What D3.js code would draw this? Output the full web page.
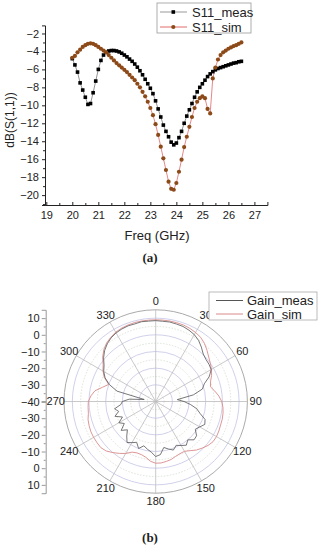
<!DOCTYPE html>
<html><head><meta charset="utf-8">
<script src="https://cdn.jsdelivr.net/npm/d3@7"></script>
<style>
body{margin:0;background:#fff}
text{font-family:Arial,"Liberation Sans",sans-serif;fill:#222}
</style>
</head><body>
<svg id="fig" width="318" height="550"></svg>
<script>
// (a) S11 vs frequency
var freq = [20.0,20.1,20.2,20.3,20.4,20.5,20.6,20.7,20.8,20.9,21.0,21.1,21.2,21.3,21.4,21.5,21.6,21.7,21.8,21.9,
  22.0,22.1,22.2,22.3,22.4,22.5,22.6,22.7,22.8,22.9,23.0,23.1,23.2,23.3,23.4,23.5,23.6,23.7,23.8,23.9,
  24.0,24.1,24.2,24.3,24.4,24.5,24.6,24.7,24.8,24.9,25.0,25.1,25.2,25.3,25.4,25.5,25.6,25.7,25.8,25.9,
  26.0,26.1,26.2,26.3,26.4,26.5];
var s11Meas = [-4.8,-5.5,-6.3,-7.5,-8.3,-9.1,-9.9,-9.8,-8.6,-7.3,-6.0,-5.0,-4.4,-4.1,-3.95,-3.9,-3.9,-3.95,-4.05,-4.2,
  -4.4,-4.6,-4.85,-5.1,-5.4,-5.75,-6.15,-6.6,-7.1,-7.6,-8.1,-8.7,-9.5,-10.4,-11.3,-12.2,-12.9,-13.5,-14.1,-14.4,
  -14.2,-13.6,-12.9,-12.0,-11.2,-10.5,-9.8,-9.1,-8.5,-8.0,-7.6,-7.2,-6.8,-6.5,-6.25,-6.05,-5.9,-5.8,-5.7,-5.6,
  -5.5,-5.4,-5.3,-5.25,-5.15,-5.1];
var s11Sim = [-4.7,-4.5,-4.1,-3.8,-3.5,-3.3,-3.15,-3.1,-3.15,-3.3,-3.5,-3.7,-3.9,-4.1,-4.4,-4.7,-5.0,-5.3,-5.55,-5.8,
  -6.05,-6.3,-6.6,-6.9,-7.2,-7.6,-8.0,-8.5,-9.0,-9.6,-10.3,-11.1,-12.1,-13.3,-14.6,-15.9,-17.2,-18.5,-19.3,-19.4,
  -18.65,-17.4,-16.05,-14.65,-13.5,-12.4,-11.3,-10.3,-9.6,-9.2,-9.0,-9.2,-10.4,-10.9,-7.0,-5.8,-4.9,-4.4,-4.1,-3.9,
  -3.7,-3.55,-3.4,-3.3,-3.15,-3.0];
var freqTicks = [19,20,21,22,23,24,25,26,27];
var dbTicks = [-2,-4,-6,-8,-10,-12,-14,-16,-18,-20];

// (b) radiation pattern, dB vs angle
var angles = [0,5,10,15,20,25,30,35,40,45,50,55,60,65,70,75,80,85,90,95,100,105,110,115,
  120,125,130,135,140,145,150,155,160,165,170,175,180,185,190,195,200,205,210,215,220,225,230,235,
  240,245,250,255,260,265,270,275,280,285,290,295,300,305,310,315,320,325,330,335,340,345,350,355];
var gainSim = [9,9,9,8.9,8.8,8.4,7.8,7,5.5,3.5,1.5,0,-1.4,-3,-5,-6,-4,-2,-0.4,0.5,1,1.3,1.4,1.8,
  2.1,2,1,-0.5,-2,-4,-5.5,-5.5,-5,-4,-3.5,-3,-3,-4,-6,-7,-7.2,-6.5,-4,-2,0,2,3,3,
  3,2.9,2.5,2,1,0.7,0.4,-1,-3,-7,-10,-6,-3.5,-1.5,1.5,4,5.8,7,8,8.5,8.8,9,9,9];
var gainMeas = [8.5,8.3,8.4,8.1,7.9,7.2,6.3,4.8,2.6,0.3,-0.7,-1.0,-1.6,-4.5,-9,-11,-17,-27,-23,-19,-15,-12.5,-8.5,-7.5,
  -9.5,-11,-8,-7.5,-10,-8,-9.5,-11,-9,-10.5,-12,-8,-7,-9.5,-11,-12.5,-10,-13,-11.5,-10,-13,-16,-13,-17,
  -14.5,-18,-14,-17,-15,-19,-20,-24,-33,-16,-10.5,-6.5,-4,-2.2,0.8,3.3,5.2,6.6,7.5,8.0,8.3,8.2,8.6,8.4];
var angleTicks = [0,30,60,90,120,150,180,210,240,270,300,330];
var ringMajor = [-30,-20,-10,0,10];
var ringMinor = [-35,-25,-15,-5,5];
var radTicks = [-40,-30,-20,-10,0,10];

var svg = d3.select("#fig");

// ---------- top chart ----------
var x = d3.scaleLinear().domain([18.95, 27.5]).range([45, 267.4]);
var y = d3.scaleLinear().domain([-21.1, -1.1]).range([205, 25.4]);

var g1 = svg.append("g");

g1.append("g")
    .attr("transform", "translate(0,205)")
    .call(d3.axisBottom(x).tickValues(freqTicks).tickSize(-3).tickPadding(6).tickFormat(d3.format("d")))
    .call(function(a) {
      a.select(".domain").attr("stroke", "#222");
      a.selectAll(".tick line").attr("stroke", "#222");
      a.selectAll("text").style("font-size", "11px");
    });
g1.append("g")
    .attr("transform", "translate(0,205)")
    .call(d3.axisBottom(x).tickValues(d3.range(19.5, 27.5, 1)).tickSize(-2).tickFormat(""))
    .call(function(a) { a.select(".domain").remove(); a.selectAll("line").attr("stroke", "#222"); });

g1.append("g")
    .attr("transform", "translate(45,0)")
    .call(d3.axisLeft(y).tickValues(dbTicks).tickSize(3).tickPadding(3))
    .call(function(a) {
      a.select(".domain").attr("stroke", "#222");
      a.selectAll(".tick line").attr("stroke", "#222");
      a.selectAll("text").style("font-size", "11px");
    });
g1.append("g")
    .attr("transform", "translate(45,0)")
    .call(d3.axisLeft(y).tickValues(d3.range(-21, -1, 2)).tickSize(2).tickFormat(""))
    .call(function(a) { a.select(".domain").remove(); a.selectAll("line").attr("stroke", "#222"); });

var measPts = freq.map(function(f, i) { return {f: f, v: s11Meas[i]}; });
var simPts = freq.map(function(f, i) { return {f: f, v: s11Sim[i]}; });
var line = d3.line().x(function(d) { return x(d.f); }).y(function(d) { return y(d.v); });

g1.append("path").datum(measPts)
    .attr("fill", "none").attr("stroke", "#777").attr("stroke-width", 0.8).attr("d", line);
g1.append("path").datum(simPts)
    .attr("fill", "none").attr("stroke", "#e06a6a").attr("stroke-width", 0.8).attr("d", line);

g1.selectAll(".sq").data(measPts).enter().append("rect")
    .attr("x", function(d) { return x(d.f) - 1.8; })
    .attr("y", function(d) { return y(d.v) - 1.8; })
    .attr("width", 3.6).attr("height", 3.6).attr("fill", "#000");
g1.selectAll(".ci").data(simPts).enter().append("circle")
    .attr("cx", function(d) { return x(d.f); })
    .attr("cy", function(d) { return y(d.v); })
    .attr("r", 2.1).attr("fill", "#8c4a18");

g1.append("text").attr("x", 157).attr("y", 240).attr("text-anchor", "middle")
    .style("font-size", "13px").text("Freq (GHz)");
g1.append("text").attr("transform", "translate(14,120) rotate(-90)").attr("text-anchor", "middle")
    .style("font-size", "12px").text("dB(S(1,1))");

// legend a
var lg = g1.append("g");
lg.append("rect").attr("x", 157).attr("y", 3).attr("width", 94).attr("height", 30)
    .attr("fill", "#fff").attr("stroke", "#999").attr("stroke-width", 0.8);
lg.append("line").attr("x1", 160).attr("x2", 187).attr("y1", 12).attr("y2", 12).attr("stroke", "#999");
lg.append("rect").attr("x", 171.5).attr("y", 10.2).attr("width", 3.6).attr("height", 3.6).attr("fill", "#000");
lg.append("text").attr("x", 192).attr("y", 16.5).style("font-size", "13px").text("S11_meas");
lg.append("line").attr("x1", 160).attr("x2", 187).attr("y1", 27).attr("y2", 27).attr("stroke", "#e06a6a");
lg.append("circle").attr("cx", 173.3).attr("cy", 27).attr("r", 2.1).attr("fill", "#8c4a18");
lg.append("text").attr("x", 192).attr("y", 31.5).style("font-size", "13px").text("S11_sim");

svg.append("text").attr("x", 150).attr("y", 262).attr("text-anchor", "middle")
    .style("font-family", "'Liberation Serif','DejaVu Serif',serif").style("font-size", "13px")
    .style("font-weight", "bold").text("(a)");

// ---------- polar chart ----------
var cx = 155.7, cy = 401.5, R = 91.7;
var r = d3.scaleLinear().domain([-40, 15]).range([0, R]);
var pg = svg.append("g").attr("transform", "translate(" + cx + "," + cy + ")");

pg.selectAll(".rmin").data(ringMinor).enter().append("circle")
    .attr("r", function(d) { return r(d); }).attr("fill", "none")
    .attr("stroke", "#cfd8c8").attr("stroke-width", 0.7).attr("stroke-dasharray", "1.5,1.5");
pg.selectAll(".rmaj").data(ringMajor).enter().append("circle")
    .attr("r", function(d) { return r(d); }).attr("fill", "none")
    .attr("stroke", "#c4c4e6").attr("stroke-width", 0.8);
pg.selectAll(".spoke").data(angleTicks).enter().append("line")
    .attr("x1", 0).attr("y1", 0)
    .attr("x2", function(d) { return R * Math.sin(d * Math.PI / 180); })
    .attr("y2", function(d) { return -R * Math.cos(d * Math.PI / 180); })
    .attr("stroke", "#bbb").attr("stroke-width", 0.8);
pg.append("circle").attr("r", r(15)).attr("fill", "none").attr("stroke", "#a0a0a0").attr("stroke-width", 0.9);

pg.selectAll(".alab").data(angleTicks).enter().append("text")
    .attr("x", function(d) { return 100 * Math.sin(d * Math.PI / 180); })
    .attr("y", function(d) { return -100 * Math.cos(d * Math.PI / 180); })
    .attr("dy", "0.35em").attr("text-anchor", "middle").style("font-size", "11px")
    .text(function(d) { return d; });

var radial = d3.lineRadial()
    .angle(function(d) { return d.a * Math.PI / 180; })
    .radius(function(d) { return r(d.v); })
    .curve(d3.curveLinearClosed);
pg.append("path").datum(angles.map(function(a, i) { return {a: a, v: gainSim[i]}; }))
    .attr("fill", "none").attr("stroke", "#d98a8a").attr("stroke-width", 0.9).attr("d", radial);
pg.append("path").datum(angles.map(function(a, i) { return {a: a, v: gainMeas[i]}; }))
    .attr("fill", "none").attr("stroke", "#555").attr("stroke-width", 0.8).attr("d", radial);

// radial axis on the left, mirrored around the centre
var yUp = d3.scaleLinear().domain([-40, 15]).range([cy, cy - R]);
var yDn = d3.scaleLinear().domain([-40, 15]).range([cy, cy + R]);
[yUp, yDn].forEach(function(s, k) {
  svg.append("g").attr("transform", "translate(45.7,0)")
      .call(d3.axisLeft(s).tickValues(k == 0 ? radTicks : radTicks.slice(1)).tickSize(4).tickPadding(2))
      .call(function(a) {
        a.select(".domain").attr("stroke", "#999");
        a.selectAll(".tick line").attr("stroke", "#999");
        a.selectAll("text").style("font-size", "11px");
      });
  svg.append("g").attr("transform", "translate(45.7,0)")
      .call(d3.axisLeft(s).tickValues(d3.range(-35, 15, 10)).tickSize(2).tickFormat(""))
      .call(function(a) { a.select(".domain").remove(); a.selectAll("line").attr("stroke", "#999"); });
});

// legend b
var lb = svg.append("g");
lb.append("rect").attr("x", 209).attr("y", 292).attr("width", 108).attr("height", 28)
    .attr("fill", "#fff").attr("stroke", "#aaa").attr("stroke-width", 0.8);
lb.append("line").attr("x1", 216).attr("x2", 243).attr("y1", 300.5).attr("y2", 300.5).attr("stroke", "#555");
lb.append("text").attr("x", 247).attr("y", 305).style("font-size", "13px").text("Gain_meas");
lb.append("line").attr("x1", 216).attr("x2", 243).attr("y1", 314).attr("y2", 314).attr("stroke", "#d98a8a");
lb.append("text").attr("x", 247).attr("y", 318.5).style("font-size", "13px").text("Gain_sim");

svg.append("text").attr("x", 150).attr("y", 542).attr("text-anchor", "middle")
    .style("font-family", "'Liberation Serif','DejaVu Serif',serif").style("font-size", "13px")
    .style("font-weight", "bold").text("(b)");
</script>
</body></html>
